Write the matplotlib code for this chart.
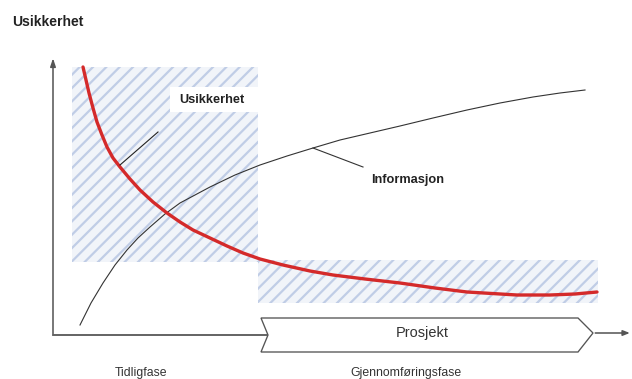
import numpy as np
import matplotlib
matplotlib.use("Agg")
import matplotlib.pyplot as plt
from matplotlib.patches import Rectangle, Polygon

plt.rcParams['font.family'] = ['Liberation Sans', 'DejaVu Sans']
plt.rcParams['hatch.linewidth'] = 2.0

# Curves, in picture pixel coordinates
usikkerhet_x = [83, 86, 89, 93, 97, 102, 107, 113, 120, 130, 140, 153, 167, 180, 193,
                210, 227, 243, 260, 283, 310, 333, 365, 400, 435, 467, 517, 550, 575, 597]
usikkerhet_y = [67, 80, 93, 108, 122, 135, 147, 158, 167, 179, 190, 202, 213, 222, 230,
                238, 246, 253, 259, 265, 271, 275, 279, 283, 288, 292, 295, 295, 294, 292]

informasjon_x = [80, 91, 103, 115, 127, 138, 150, 165, 180, 195, 210, 235, 260, 287,
                 313, 340, 370, 400, 433, 467, 500, 533, 560, 585]
informasjon_y = [325, 303, 283, 265, 250, 238, 227, 214, 203, 195, 187, 175, 165, 156,
                 148, 140, 133, 126, 118, 110, 103, 97, 93, 90]

# Labels
y_title = "Usikkerhet"
lbl_usikkerhet = "Usikkerhet"
lbl_informasjon = "Informasjon"
lbl_prosjekt = "Prosjekt"
lbl_tidlig = "Tidligfase"
lbl_gjennom = "Gjennomføringsfase"

W, H, DPI = 632, 379, 80
fig = plt.figure(figsize=(W / DPI, H / DPI), dpi=DPI)
ax = fig.add_axes([0, 0, 1, 1])
ax.set_xlim(0, W)
ax.set_ylim(H, 0)
ax.axis('off')

# hatched regions
hatch_col = '#c0cde6'
bg_col = '#f1f4f9'
for (x0, y0, w, h) in [(72, 67, 186, 195), (258, 260, 340, 43)]:
    ax.add_patch(Rectangle((x0, y0), w, h, facecolor=bg_col, edgecolor='none', zorder=1))
    ax.add_patch(Rectangle((x0, y0), w, h, facecolor='none', edgecolor=hatch_col,
                           linewidth=0, hatch='//', zorder=1))
# white box behind inner label
ax.add_patch(Rectangle((170, 87), 88, 25, facecolor='white', edgecolor='none', zorder=2))

# axes
axcol = '#555555'
ax.plot([53, 268], [335, 335], color=axcol, lw=1.6, zorder=3)
ax.annotate('', xy=(53, 56), xytext=(53, 336),
            arrowprops=dict(arrowstyle='-|>,head_length=0.6,head_width=0.2',
                            color=axcol, lw=1.4), zorder=3)

# project chevron
chevron = [(261, 318), (578, 318), (593, 333), (578, 352), (261, 352), (268, 335)]
ax.add_patch(Polygon(chevron, closed=True, facecolor='white', edgecolor='#555555',
                     lw=1.2, zorder=3))
ax.annotate('', xy=(632, 333), xytext=(593, 333),
            arrowprops=dict(arrowstyle='-|>,head_length=0.5,head_width=0.2',
                            color=axcol, lw=1.4), zorder=3)

# curves
ax.plot(informasjon_x, informasjon_y, color='#333333', lw=1.0, zorder=4)
ax.plot(usikkerhet_x, usikkerhet_y, color='#d42a2a', lw=3.0, zorder=5,
        solid_capstyle='round', solid_joinstyle='round')

# leader lines
ax.plot([158, 120], [132, 165], color='#222222', lw=1.0, zorder=6)
ax.plot([313, 363], [148, 167], color='#333333', lw=1.0, zorder=6)

# texts
ax.text(12, 22, y_title, fontsize=12.5, fontweight='bold', color='#222222',
        ha='left', va='center')
ax.text(212, 100, lbl_usikkerhet, fontsize=11.5, fontweight='bold', color='#222222',
        ha='center', va='center', zorder=7)
ax.text(408, 180, lbl_informasjon, fontsize=11.5, fontweight='bold', color='#222222',
        ha='center', va='center', zorder=7)
ax.text(422, 333, lbl_prosjekt, fontsize=13, color='#333333',
        ha='center', va='center', zorder=7)
ax.text(141, 373, lbl_tidlig, fontsize=11, color='#333333', ha='center', va='center')
ax.text(406, 373, lbl_gjennom, fontsize=11, color='#333333', ha='center', va='center')

fig.savefig('out.png', dpi=DPI, facecolor='white')
